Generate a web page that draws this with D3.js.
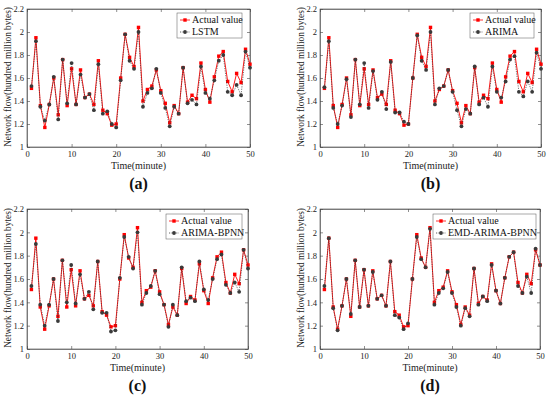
<!DOCTYPE html>
<html><head><meta charset="utf-8">
<script src="https://cdn.jsdelivr.net/npm/d3@7"></script>
<style>body{margin:0;background:#fff}svg{display:block}</style>
</head><body>
<svg id="c" width="550" height="398"></svg>
<script>
const time = d3.range(1, 51);
const actual = [1.51,1.95,1.36,1.17,1.37,1.60,1.28,1.76,1.36,1.68,1.37,1.67,1.43,1.46,1.37,1.75,1.32,1.29,1.19,1.20,
  1.60,1.98,1.78,1.70,2.04,1.40,1.50,1.53,1.67,1.49,1.38,1.21,1.36,1.29,1.69,1.39,1.45,1.42,1.73,1.50,
  1.39,1.61,1.79,1.83,1.57,1.48,1.64,1.56,1.85,1.72];
const lstm = [1.53,1.92,1.35,1.23,1.37,1.61,1.24,1.76,1.38,1.73,1.37,1.63,1.43,1.46,1.32,1.72,1.29,1.31,1.20,1.17,
  1.58,1.98,1.75,1.68,2.00,1.35,1.47,1.51,1.68,1.47,1.34,1.18,1.35,1.29,1.69,1.38,1.41,1.37,1.70,1.47,
  1.42,1.58,1.75,1.80,1.48,1.45,1.54,1.45,1.83,1.69];
const arima = [1.52,1.92,1.34,1.20,1.36,1.59,1.26,1.76,1.37,1.73,1.34,1.66,1.41,1.48,1.33,1.74,1.30,1.30,1.22,1.20,
  1.60,1.97,1.75,1.67,2.00,1.37,1.51,1.53,1.67,1.48,1.32,1.18,1.33,1.29,1.70,1.37,1.43,1.35,1.70,1.48,
  1.43,1.57,1.76,1.79,1.48,1.44,1.57,1.48,1.82,1.68];
const arimaBpnn = [1.54,1.90,1.38,1.20,1.38,1.60,1.24,1.76,1.40,1.72,1.39,1.64,1.43,1.49,1.34,1.75,1.31,1.31,1.15,1.16,
  1.61,1.96,1.79,1.69,2.00,1.38,1.48,1.54,1.67,1.47,1.38,1.19,1.38,1.29,1.70,1.41,1.44,1.41,1.75,1.51,
  1.42,1.60,1.77,1.81,1.55,1.48,1.57,1.49,1.85,1.69];
const emdArimaBpnn = [1.54,1.95,1.35,1.16,1.37,1.60,1.30,1.76,1.36,1.68,1.37,1.66,1.43,1.46,1.37,1.75,1.29,1.27,1.17,1.22,
  1.60,1.96,1.77,1.70,2.03,1.38,1.48,1.52,1.66,1.48,1.36,1.20,1.35,1.28,1.69,1.38,1.45,1.41,1.72,1.50,
  1.39,1.61,1.79,1.83,1.54,1.48,1.62,1.48,1.86,1.72];
const modelNames = ["LSTM","ARIMA","ARIMA-BPNN","EMD-ARIMA-BPNN"];
const predictions = [lstm, arima, arimaBpnn, emdArimaBpnn];
const panelLabels = ["(a)","(b)","(c)","(d)"];
const xTicks = [0,10,20,30,40,50];
const yTicks = [1,1.2,1.4,1.6,1.8,2,2.2];
const actualName = "Actual value";

const panels = [
  {x0:27, x1:250, y0:147, y1:9,  lg:[177,13,242,38]},
  {x0:320,x1:541, y0:147, y1:9,  lg:[470,13,534,38]},
  {x0:27, x1:248, y0:349, y1:209, lg:[166,214,242,239]},
  {x0:320,x1:540, y0:349, y1:209, lg:[433,214,536,239]}
];
const svg = d3.select("#c");
const FONT = "'Liberation Serif','Times New Roman',serif";
const RED = "#ff0000", DARK = "#3a3a3a";

panels.forEach((p, i) => {
  const x = d3.scaleLinear().domain([0,50]).range([p.x0,p.x1]);
  const y = d3.scaleLinear().domain([1,2.2]).range([p.y0,p.y1]);
  const g = svg.append("g");
  g.append("rect").attr("x",p.x0).attr("y",p.y1).attr("width",p.x1-p.x0).attr("height",p.y0-p.y1)
    .attr("fill","#fff").attr("stroke","#444").attr("stroke-width",0.6);
  const fmt = d => String(d);
  const ax = [
    [d3.axisBottom(x).tickValues(xTicks).tickFormat(fmt).tickSizeInner(-3).tickSizeOuter(0), `translate(0,${p.y0})`],
    [d3.axisTop(x).tickValues(xTicks).tickFormat("").tickSizeInner(-3).tickSizeOuter(0), `translate(0,${p.y1})`],
    [d3.axisLeft(y).tickValues(yTicks).tickFormat(fmt).tickSizeInner(-3).tickSizeOuter(0), `translate(${p.x0},0)`],
    [d3.axisRight(y).tickValues(yTicks).tickFormat("").tickSizeInner(-3).tickSizeOuter(0), `translate(${p.x1},0)`]
  ];
  ax.forEach(([a,t]) => {
    const ag = g.append("g").attr("transform",t).call(a);
    ag.select(".domain").attr("stroke","#444").attr("stroke-width",0.6);
    ag.selectAll(".tick line").attr("stroke","#444").attr("stroke-width",0.6);
    ag.selectAll(".tick text").attr("font-family",FONT).attr("font-size",8.5).attr("fill","#222");
  });
  g.selectAll(".tick text").each(function(){
    const t = d3.select(this);
    if (t.attr("y") !== null && +t.attr("y") > 0) t.attr("y",3.5);
    if (t.attr("x") !== null && +t.attr("x") < 0) t.attr("x",-3);
  });
  const cx = (p.x0+p.x1)/2;
  g.append("text").attr("x",cx).attr("y",p.y0+21.5).attr("text-anchor","middle")
    .attr("font-family",FONT).attr("font-size",10).attr("fill","#222").text("Time(minute)");
  g.append("text").attr("transform",`translate(${p.x0-16},${(p.y0+p.y1)/2 - 1}) rotate(-90)`)
    .attr("text-anchor","middle").attr("font-family",FONT).attr("font-size",9.3).attr("fill","#222")
    .text("Network flow(hundred million bytes)");
  g.append("text").attr("x",cx).attr("y",p.y0+42).attr("text-anchor","middle")
    .attr("font-family",FONT).attr("font-size",16).attr("font-weight","bold").attr("fill","#111").text(panelLabels[i]);

  const line = d3.line().x((d,k)=>x(time[k])).y(d=>y(d));
  const pred = predictions[i];
  g.append("path").datum(actual).attr("d",line).attr("fill","none").attr("stroke",RED).attr("stroke-width",0.9);
  g.selectAll(".ra").data(actual).enter().append("rect")
    .attr("x",(d,k)=>x(time[k])-1.7).attr("y",d=>y(d)-1.7).attr("width",3.4).attr("height",3.4).attr("fill",RED);
  g.append("path").datum(pred).attr("d",line).attr("fill","none").attr("stroke",DARK)
    .attr("stroke-width",0.7).attr("stroke-dasharray","1.2,1.2");
  g.selectAll(".pc").data(pred).enter().append("circle")
    .attr("cx",(d,k)=>x(time[k])).attr("cy",d=>y(d)).attr("r",1.9).attr("fill",DARK);

  const [lx0,ly0,lx1,ly1] = p.lg;
  g.append("rect").attr("x",lx0).attr("y",ly0).attr("width",lx1-lx0).attr("height",ly1-ly0)
    .attr("fill","#fff").attr("stroke","#555").attr("stroke-width",0.5);
  const rows = [[actualName, RED, "sq"], [modelNames[i], DARK, "c"]];
  rows.forEach(([name,col,m],r) => {
    const yy = ly0 + 7 + r*12;
    const sx0 = lx0+3, sx1 = lx0+13;
    g.append("line").attr("x1",sx0).attr("x2",sx1).attr("y1",yy).attr("y2",yy)
      .attr("stroke",col).attr("stroke-width",0.8).attr("stroke-dasharray", m==="c" ? "1.2,1.2" : null);
    if (m==="sq") g.append("rect").attr("x",(sx0+sx1)/2-1.7).attr("y",yy-1.7).attr("width",3.4).attr("height",3.4).attr("fill",col);
    else g.append("circle").attr("cx",(sx0+sx1)/2).attr("cy",yy).attr("r",1.9).attr("fill",col);
    g.append("text").attr("x",sx1+2).attr("y",yy+3.4).attr("font-family",FONT).attr("font-size",10)
      .attr("fill","#111").text(name);
  });
});
</script>
</body></html>
